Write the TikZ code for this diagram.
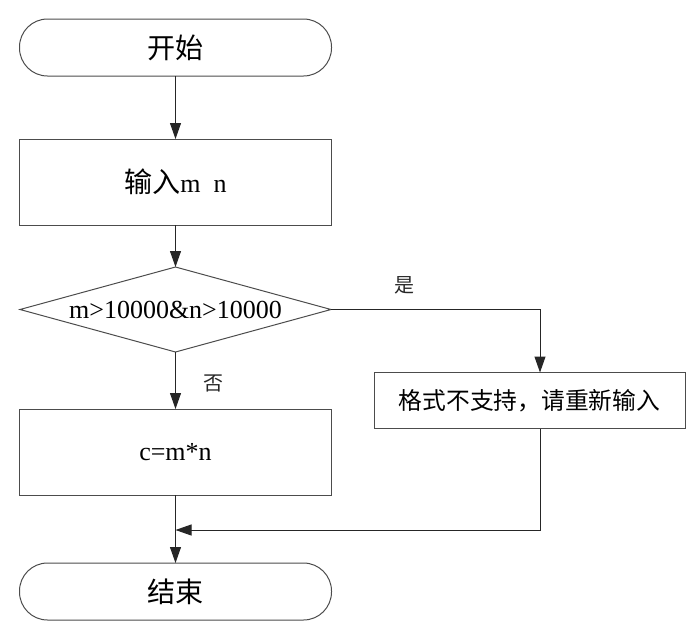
\documentclass[tikz,border=0pt]{standalone}
\usepackage{fontspec}
\setmainfont{Liberation Serif}
\newfontfamily\cjk[Scale=1.08]{Noto Sans CJK SC}
\usetikzlibrary{arrows.meta, positioning, shapes.geometric}

\begin{document}
\begin{tikzpicture}[
  x=1pt, y=1pt,
  line width=1pt,
  every node/.style={outer sep=0pt},
  terminal/.style={draw=black!70, rounded corners=28pt,
                   minimum width=312pt, minimum height=57pt,
                   font=\fontsize{26}{30}\selectfont},
  process/.style={draw=black!70, minimum width=312pt, minimum height=86pt,
                  font=\fontsize{26}{30}\selectfont},
  decision/.style={draw=black!70, diamond, aspect=3.66, inner sep=0pt,
                   minimum width=311pt, minimum height=85pt,
                   font=\fontsize{26}{30}\selectfont},
  errbox/.style={draw=black!70, minimum width=311pt, minimum height=56pt,
                 font=\fontsize{22}{26}\selectfont},
  lbl/.style={font=\fontsize{18.5}{22}\selectfont},
  arr/.style={-{Triangle[length=16pt, width=11pt]}, black!85},
]
\useasboundingbox (0,0) rectangle (688,-622);

% main column
\node[terminal] (start) at (175.5,-47.5) {\cjk 开始};
\node[process, below=63pt of start] (input) {{\cjk 输入}m~~n};
\node[decision, below=42pt of input] (dec) {m>10000\&n>10000};
\node[process, below=57pt of dec] (calc) {c=m*n};
\node[terminal, below=68pt of calc] (end) {\cjk 结束};

% error branch
\node[errbox, below right=63pt and 43pt of dec.east] (err) {\cjk 格式不支持，请重新输入};

% merge point
\coordinate (join) at ([yshift=-35pt]calc.south);

% arrows
\draw[arr] (start) -- (input);
\draw[arr] (input) -- (dec);
\draw[arr] (dec) -- node[lbl, right=25pt, pos=0.55] {\cjk 否} (calc);
\draw[arr] (dec.east) -| node[lbl, above=12pt, pos=0.175] {\cjk 是} ([xshift=10.5pt]err.north);
\draw[arr] ([xshift=10.5pt]err.south) |- (join);
\draw[arr] (calc) -- (end);

\end{tikzpicture}
\end{document}
